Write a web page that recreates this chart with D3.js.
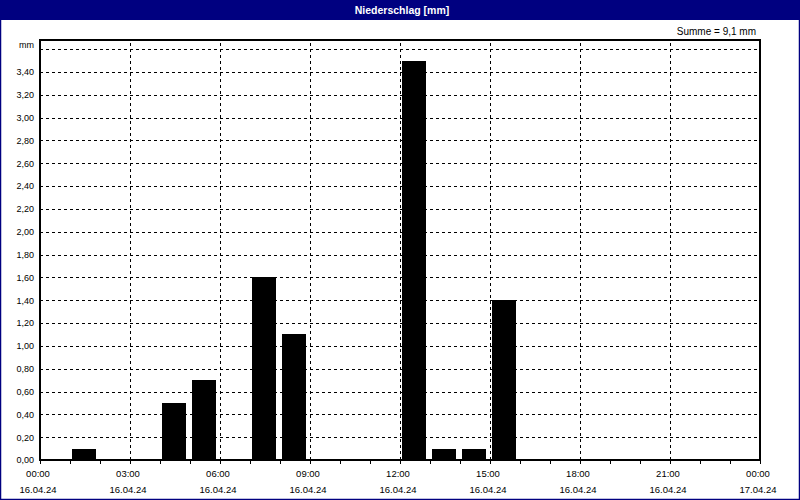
<!DOCTYPE html>
<html>
<head>
<meta charset="utf-8">
<script src="https://cdn.jsdelivr.net/npm/d3@7/dist/d3.min.js"></script>
<style>
  html, body { margin: 0; padding: 0; background: #ffffff; }
  svg { display: block; }
  text { font-family: "Liberation Sans", Arial, sans-serif; fill: #000; }
</style>
</head>
<body>
<svg id="chart" width="800" height="500"></svg>
<script>
// ---- data ----
const title = "Niederschlag [mm]";
const sumLabel = "Summe = 9,1 mm";
const unitLabel = "mm";
const hourCategories = ["00:00","01:00","02:00","03:00","04:00","05:00","06:00","07:00","08:00","09:00","10:00","11:00",
                        "12:00","13:00","14:00","15:00","16:00","17:00","18:00","19:00","20:00","21:00","22:00","23:00"];
const precipValues = [0, 0.1, 0, 0, 0.5, 0.7, 0, 1.6, 1.1, 0, 0, 0,
                      3.5, 0.1, 0.1, 1.4, 0, 0, 0, 0, 0, 0, 0, 0];
const xTickHours = [0, 3, 6, 9, 12, 15, 18, 21, 24];
const xTickTimes = ["00:00","03:00","06:00","09:00","12:00","15:00","18:00","21:00","00:00"];
const xTickDates = ["16.04.24","16.04.24","16.04.24","16.04.24","16.04.24","16.04.24","16.04.24","16.04.24","17.04.24"];
const yTickValues = [0,0.2,0.4,0.6,0.8,1.0,1.2,1.4,1.6,1.8,2.0,2.2,2.4,2.6,2.8,3.0,3.2,3.4];
const yGridValues = [0.2,0.4,0.6,0.8,1.0,1.2,1.4,1.6,1.8,2.0,2.2,2.4,2.6,2.8,3.0,3.2,3.4,3.6];
const yMax = 3.68;

// ---- layout ----
const W = 800, H = 500;
const pL = 40, pR = 760, pT = 40, pB = 460;
const svg = d3.select("#chart");

svg.append("rect").attr("x", 0).attr("y", 0).attr("width", W).attr("height", H).attr("fill", "#ffffff");

// title bar
svg.append("rect").attr("x", 0).attr("y", 0).attr("width", W).attr("height", 20).attr("fill", "#000080");
svg.append("text").attr("x", 402).attr("y", 13.5).attr("text-anchor", "middle")
  .style("font-size", "10.5px").style("font-weight", "bold").style("fill", "#ffffff").text(title);

// outer border
svg.append("rect").attr("x", 0.5).attr("y", 0.5).attr("width", W - 1).attr("height", H - 1)
  .attr("fill", "none").attr("stroke", "#000080").attr("stroke-width", 1.5);

const x = d3.scaleLinear().domain([0, 24]).range([pL, pR]);
const y = d3.scaleLinear().domain([0, yMax]).range([pB, pT]);

// horizontal grid
const gy = svg.append("g").attr("transform", `translate(${pL},0)`)
  .call(d3.axisLeft(y).tickValues(yGridValues).tickSize(-(pR - pL)).tickFormat(""));
gy.select(".domain").remove();
gy.selectAll("line").attr("stroke", "#000").attr("stroke-dasharray", "3,3").attr("shape-rendering", "crispEdges");

// vertical grid
const gx = svg.append("g").attr("transform", `translate(0,${pB})`)
  .call(d3.axisBottom(x).tickValues(xTickHours.slice(1, -1)).tickSize(-(pB - pT)).tickFormat(""));
gx.select(".domain").remove();
gx.selectAll("line").attr("stroke", "#000").attr("stroke-dasharray", "3,3").attr("shape-rendering", "crispEdges");

// bars
const barData = precipValues.map((v, i) => ({ h: i, v: v, label: hourCategories[i] })).filter(d => d.v > 0);
svg.append("g").selectAll("rect").data(barData).enter().append("rect")
  .attr("x", d => x(d.h) + 2)
  .attr("width", d => x(d.h + 1) - x(d.h) - 6)
  .attr("y", d => y(d.v))
  .attr("height", d => y(0) - y(d.v))
  .attr("fill", "#000000")
  .attr("shape-rendering", "crispEdges");

// plot frame
svg.append("rect").attr("x", pL).attr("y", pT).attr("width", pR - pL).attr("height", pB - pT)
  .attr("fill", "none").attr("stroke", "#000").attr("stroke-width", 1.2).attr("shape-rendering", "crispEdges");

// y axis labels
const yAxis = svg.append("g").attr("transform", `translate(${pL},0)`)
  .call(d3.axisLeft(y).tickValues(yTickValues).tickSize(0).tickPadding(6)
    .tickFormat(d => d3.format(".2f")(d).replace(".", ",")));
yAxis.select(".domain").remove();
yAxis.selectAll("text").style("font-size", "9px").style("font-family", "Liberation Sans, Arial, sans-serif");

svg.append("text").attr("x", 34).attr("y", 48).attr("text-anchor", "end").style("font-size", "9px").text(unitLabel);

// x axis minor ticks + labels
const hoursAll = d3.range(0, 25);
const xAxisTicks = svg.append("g").attr("transform", `translate(0,${pB})`)
  .call(d3.axisBottom(x).tickValues(hoursAll).tickSize(4).tickFormat(""));
xAxisTicks.select(".domain").remove();
xAxisTicks.selectAll("line").attr("stroke", "#000").attr("shape-rendering", "crispEdges");

const xLab = svg.append("g");
xLab.selectAll("text.t").data(xTickHours).enter().append("text")
  .attr("class", "t").attr("x", d => x(d) - 2).attr("y", 477).attr("text-anchor", "middle")
  .style("font-size", "9.5px").text((d, i) => xTickTimes[i]);
xLab.selectAll("text.d").data(xTickHours).enter().append("text")
  .attr("class", "d").attr("x", d => x(d) - 2).attr("y", 493).attr("text-anchor", "middle")
  .style("font-size", "9.5px").text((d, i) => xTickDates[i]);

// sum label
svg.append("text").attr("x", 756).attr("y", 34.5).attr("text-anchor", "end").style("font-size", "10px").text(sumLabel);
</script>
</body>
</html>
